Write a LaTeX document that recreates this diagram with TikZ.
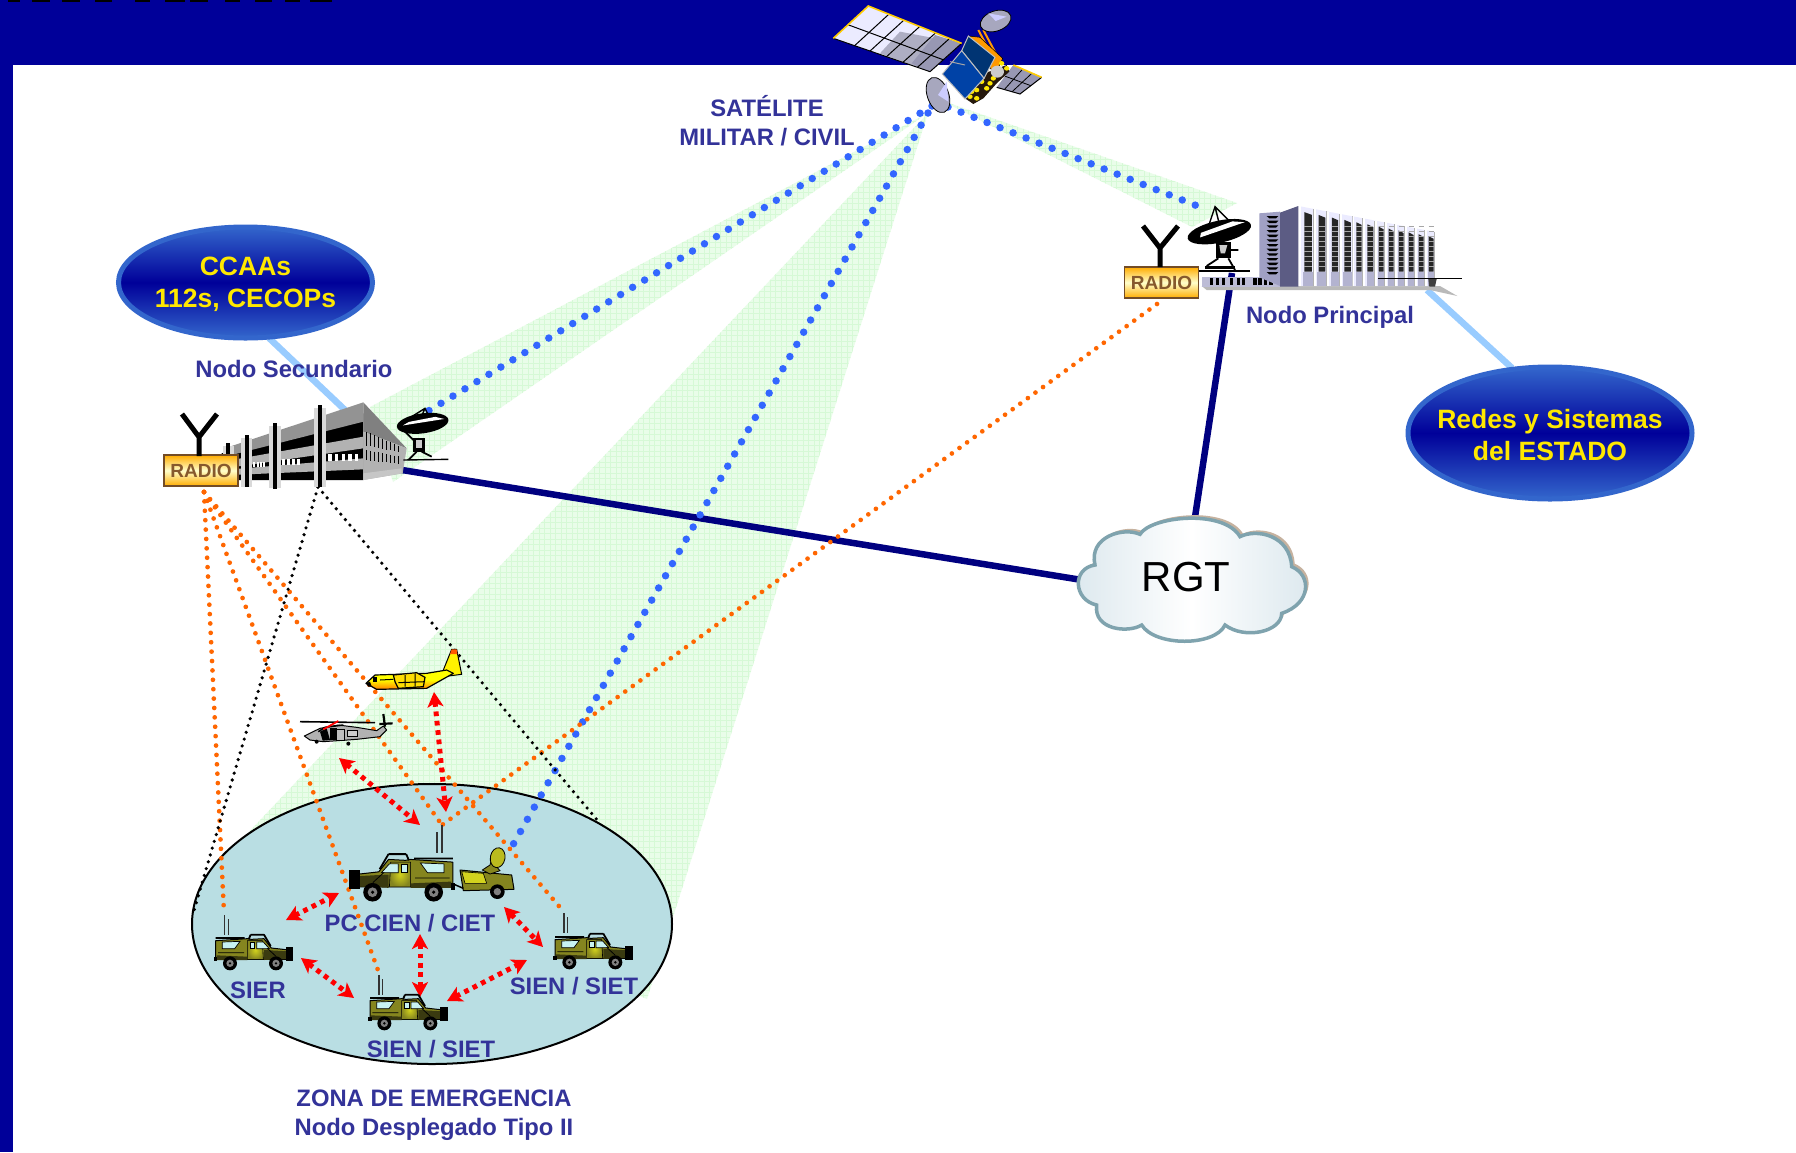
\documentclass[tikz,border=0pt]{standalone}
\usepackage{fontspec}
\setmainfont{Liberation Sans}
\usetikzlibrary{arrows.meta,calc,shapes.geometric}
\definecolor{hdr}{HTML}{000099}
\definecolor{rim}{HTML}{3366CC}
\definecolor{labelblue}{HTML}{333399}
\definecolor{beam}{HTML}{E9FDE9}
\definecolor{beamgrid}{HTML}{D6F9D6}
\definecolor{zone}{HTML}{B9DEE3}
\definecolor{navy2}{HTML}{000080}
\definecolor{skyln}{HTML}{99CCFF}
\definecolor{sat}{HTML}{3366FF}
\definecolor{orng}{HTML}{FF6600}
\definecolor{olive}{HTML}{85851F}
\definecolor{olivey}{HTML}{D2D21E}
\definecolor{olived}{HTML}{3A3A10}
\definecolor{glass}{HTML}{C8F2F2}
\definecolor{ylw}{HTML}{FFE800}
\definecolor{towerdark}{HTML}{5C5C84}
\definecolor{towerlight}{HTML}{A0A0C4}
\definecolor{cloudrim}{HTML}{7FA3AE}
\definecolor{cloudside}{HTML}{DCE8EE}
\tikzset{
  lbl/.style={font=\bfseries\fontsize{23.8}{29}\selectfont,text=labelblue,align=center,inner sep=0pt},
  ylbl/.style={font=\bfseries\fontsize{26.5}{32}\selectfont,text=ylw,align=center,inner sep=0pt},
  bluedots/.style={sat,line width=7.5pt,line cap=round,dash pattern=on 0pt off 14pt},
  orangedots/.style={orng,line width=4.7pt,line cap=round,dash pattern=on 0pt off 9.4pt},
  blackdots/.style={black,line width=3.6pt,line cap=round,dash pattern=on 0pt off 7.1pt},
  redarrow/.style={red,line width=5pt,dash pattern=on 4.7pt off 4.7pt,
     {Stealth[length=15pt,width=16pt,inset=4pt]}-{Stealth[length=15pt,width=16pt,inset=4pt]}},
  navyline/.style={navy2,line width=6.5pt},
  skyline/.style={skyln,line width=6.5pt},
  blueell/.style={ellipse,minimum width=254pt,minimum height=111pt,inner sep=0pt,
     draw=rim,line width=5pt,top color=rim,bottom color=rim,middle color=hdr},
  radiobox/.style={draw=brown!60!black,line width=1.6pt,minimum width=74pt,minimum height=31pt,inner sep=0pt,
     top color=orange!65!yellow,bottom color=orange!65!yellow,middle color=yellow!20,
     font=\bfseries\fontsize{19}{19}\selectfont,text=brown!70!black},
  yant/.style={black,line width=5pt},
  antenna/.style={black!80,line width=1.5pt},
  zoomed/.style={x=0.33333pt,y=-0.33333pt},
}
\newcommand{\jeepbody}{%
  \fill[olive,draw=black,line width=1pt,line join=round] (5,22) -- (100,16) -- (112,18) -- (150,16) -- (172,44) -- (225,50) -- (232,78) -- (5,78) -- cycle;
  \fill[inner color=olivey,outer color=olive,draw=black,line width=0.6pt] (100,22) -- (145,22) -- (148,78) -- (100,78) -- cycle;
  \fill[olived] (150,50) -- (225,54) -- (230,76) -- (150,80) -- cycle;
  \fill[olived] (8,66) -- (100,70) -- (100,80) -- (8,80) -- cycle;
  \fill[glass,draw=black,line width=0.7pt] (25,26) -- (78,24) -- (62,46) -- (25,46) -- cycle;
  \fill[glass,draw=black,line width=0.7pt] (108,26) -- (122,26) -- (122,46) -- (108,46) -- cycle;
  \fill[glass,draw=black,line width=0.7pt] (128,26) -- (148,26) -- (166,46) -- (128,46) -- cycle;
  \draw[black,line width=1.8pt,line join=round] (5,14) -- (92,14) (110,4) -- (150,4) (110,4) -- (104,18) (150,4) -- (170,38);
  \draw[black,line width=0.8pt] (12,58) -- (90,58) (160,45) -- (185,68);
  \fill[black] (215,40) rectangle (238,82);
  \fill[black] (0,70) rectangle (10,84);
  \foreach \wx in {48,186}{
    \fill[black] (\wx,90) circle [x radius=21,y radius=21];
    \fill[gray] (\wx,90) circle [x radius=11,y radius=11];
    \fill[black] (\wx,90) circle [x radius=4,y radius=4];
  }
}
\newcommand{\dishparts}{%
  \fill[black,rotate=8] (0,0) ellipse [x radius=78,y radius=30];
  \fill[white,rotate=8] (-40,-10) -- (40,-14) -- (66,-4) -- (-60,-2) -- cycle;
}
\begin{document}
\begin{tikzpicture}[x=1pt,y=-1pt]
\useasboundingbox (0,0) rectangle (1796,1152);
\fill[white] (0,0) rectangle (1796,1152);
\coordinate (satA) at (928,113);
\coordinate (satB) at (932,106);
\coordinate (satC) at (948,107);
\coordinate (nsdish) at (425,413);
\coordinate (trailer) at (510,850);
\coordinate (npdish) at (1205,209);
\coordinate (radS) at (204,492);
\coordinate (radP) at (1157,304);
\coordinate (antSIER) at (224,913);
\coordinate (antB) at (379,973);
\coordinate (antPC) at (442,825);
\coordinate (antR) at (564,912);
\coordinate (bld) at (318,487);
\coordinate (ellL) at (193,914);
\coordinate (ellR) at (598,821);
\coordinate (cloudW) at (1082,580);
\coordinate (cloudN) at (1195,517);
\coordinate (nsGround) at (402,470);
\coordinate (npGround) at (1232,273);
\coordinate (ccaaS) at (269,338);
\coordinate (nsTop) at (345,410);
\coordinate (npRight) at (1427,290);
\coordinate (redesN) at (1512,368);
% beams
\begin{scope}
 \clip (928,113) -- (370,407) -- (393,482) -- cycle
   (928,113) -- (246,835) -- (647,999) -- cycle
   (940,100) -- (1237,203) -- (1192,227) -- cycle;
 \fill[beam] (0,0) rectangle (1796,1152);
 \draw[beamgrid,line width=0.5pt,step=5.5pt] (190,90) grid (1260,1010);
\end{scope}
% header
\fill[hdr] (0,0) rectangle (1796,65);
\fill[hdr] (0,0) rectangle (13,1152);
\foreach \xa/\xb in {8/20,32/50,62/80,95/112,135/150,165/185,190/208,225/240,255/272,285/300,310/332}{
  \fill[black] (\xa,0) rectangle (\xb,2.2);}
% zone
\node[ellipse,draw=black,line width=2pt,fill=zone,minimum width=480pt,minimum height=280pt,inner sep=0pt] (zona) at (432,924) {};
\draw[skyline] (ccaaS) -- (nsTop);
\draw[skyline] (npRight) -- (redesN);
\draw[navyline] (nsGround) -- (cloudW);
\draw[navyline] (npGround) -- (cloudN);
\draw[bluedots] (satB) -- (nsdish);
\draw[bluedots] (satA) -- (trailer);
\draw[bluedots] (satC) -- (npdish);
% cloud
\begin{scope}[shift={(1060,500)},zoomed]
 \def\cloudp{(240,103) .. controls (270,50) and (490,25) .. (540,110)
   .. controls (590,85) and (690,105) .. (695,200)
   .. controls (755,225) and (755,310) .. (665,340)
   .. controls (665,395) and (555,420) .. (495,375)
   .. controls (465,440) and (285,440) .. (245,375)
   .. controls (205,400) and (100,390) .. (110,315)
   .. controls (40,300) and (35,205) .. (105,195)
   .. controls (85,110) and (190,80) .. (240,103) -- cycle}
 \fill[brown!50!gray!60,shift={(3pt,3pt)}] \cloudp;
 \draw[draw=cloudrim,line width=3.5pt,left color=cloudside,right color=cloudside,middle color=white] \cloudp;
\end{scope}
\node[font=\fontsize{42}{42}\selectfont,inner sep=0pt] (rgttext) at (1186,577) {RGT};
\draw[orangedots] (radS) -- (antSIER);
\draw[orangedots] (radS) -- (antB);
\draw[orangedots] (radS) -- (antPC);
\draw[orangedots] (radS) -- (antR);
\draw[orangedots] (radP) -- (antPC);
\draw[blackdots] (bld) -- (ellL);
\draw[blackdots] (bld) -- (ellR);
% ellipses
\node[blueell] (ccaa) at (245.5,282.5) {};
\node[ylbl] (ccaat) at (245.5,284.5) {CCAAs\\112s, CECOPs};
\node[blueell,minimum width=284pt,minimum height=132pt] (redes) at (1550,433) {};
\node[ylbl] (redest) at (1550,435) {Redes y Sistemas\\del ESTADO};
% secondary building
\begin{scope}[shift={(150,380)},zoomed]
 \fill[black] (215,300) -- (215,220) -- (640,100) -- (640,300) -- cycle;
 \fill[gray!85] (245,198) -- (640,67) -- (640,125) -- (245,225) -- cycle;
 \fill[gray!60] (245,240) -- (640,170) -- (640,205) -- (245,262) -- cycle;
 \fill[gray!60] (245,268) -- (640,235) -- (640,268) -- (245,285) -- cycle;
 \fill[gray] (640,67) -- (770,205) -- (640,155) -- cycle;
 \fill[gray!60] (640,155) -- (770,205) -- (758,280) -- (640,300) -- cycle;
 \foreach \xx in {650,662,674,686,698,710,722,734,746}{
   \draw[black,line width=1pt] (\xx,{150+(\xx-640)*0.45}) -- (\xx,{195+(\xx-640)*0.2});
   \draw[black,line width=1pt] (\xx,{208+(\xx-640)*0.2}) -- (\xx,{240+(\xx-640)*0.1});
 }
 \fill[gray!45] (640,280) -- (755,265) -- (755,280) -- (640,300) -- cycle;
 \foreach \xx in {535,555,575,595,615}{\fill[white] (\xx,222) rectangle ++(10,22);}
 \foreach \xx in {395,410,425,440}{\fill[white] (\xx,237) rectangle ++(9,17);}
 \foreach \xx in {310,320,330,340}{\fill[white] (\xx,247) rectangle ++(6,15);}
 \foreach \xa/\ya/\yb in {510/75/320,375/130/325,290/165/320,235/190/225}{
   \fill[gray!30] (\xa-17,\ya+8) rectangle (\xa+17,\yb);
   \fill[black] (\xa-6,\ya) rectangle (\xa+6,\yb+2);
 }
 \draw[black,line width=1.4pt] (785,110) -- (825,85) -- (845,125) (825,85) -- (810,120);
 \fill[black] (790,175) rectangle (825,215);
 \fill[gray!40] (798,180) rectangle (815,205);
 \draw[black,line width=1.8pt] (800,215) -- (775,240) (815,215) -- (845,230) (765,155) -- (790,180);
 \draw[black,line width=1.4pt] (760,240) -- (895,238);
 \begin{scope}[shift={(818,130)}] \dishparts \end{scope}
\end{scope}
\node[radiobox] (radioS) at (201,470.5) {RADIO};
\draw[yant] (199,456) -- (199,437) (182,414) -- (199,437) -- (217,414);
% principal building
\begin{scope}[shift={(1110,190)},zoomed]
 \fill[gray!55] (275,288) -- (990,288) -- (1042,318) -- (960,300) -- (290,300) -- cycle;
 \fill[towerlight!70] (275,260) rectangle (510,290);
 \foreach \xx in {300,318,335,360,380,395,430,445,462,478}{\fill[black] (\xx,265) rectangle ++(10,20);}
 \fill[towerlight] (448,70) -- (510,65) -- (510,288) -- (448,262) -- cycle;
 \foreach \yy in {78,92,106,120,134,148,162,176,190,204,218,232,246}{
   \fill[black] (470,\yy) -- (505,\yy) -- (498,\yy+7) -- (478,\yy+7) -- cycle;}
 \fill[towerdark] (510,68) -- (565,48) -- (565,290) -- (510,290) -- cycle;
 \foreach \xa/\wid in {568/44,612/40,652/38,690/38,728/32,760/35,795/30,825/30,855/30,885/30,915/30,945/30}{
   \pgfmathsetmacro{\yt}{48+(\xa-565)*0.19}
   \pgfmathsetmacro{\xb}{\xa+\wid-1}
   \pgfmathsetmacro{\yb}{48+(\xb-565)*0.19}
   \fill[blue!8] (\xa,\yt) -- (\xb,\yb) -- (\xb,288) -- (\xa,288) -- cycle;
   \fill[towerlight!80] (\xa+10,245) -- (\xb,245) -- (\xb,288) -- (\xa+10,288) -- cycle;
   \fill[white] (\xa,\yt) rectangle (\xa+5,288);
   \fill[gray!60] (\xb-2,\yb) rectangle (\xb,288);
   \pgfmathsetmacro{\wx}{\xa+\wid*0.35}
   \pgfmathsetmacro{\wxx}{\xa+\wid*0.85}
   \fill[black!85] (\wx,\yt+18) -- (\wxx,\yt+26) -- (\wxx,245) -- (\wx,245) -- cycle;
   \foreach \gy in {110,125,140,155,170,185,200,215,230}{\draw[gray!70,line width=0.6pt] (\wx,\gy) -- (\wxx,\gy);}
 }
 \draw[black,line width=1.3pt] (805,265) -- (1055,265);
 \fill[black!75] (955,267) -- (980,267) -- (975,290) -- (958,290) -- cycle;
 \draw[black,line width=1.4pt] (295,110) -- (315,50) -- (360,95) (315,50) -- (330,110);
 \fill[black] (318,155) rectangle (362,205);
 \fill[gray!40] (328,165) -- (352,165) -- (345,190) -- (332,190) -- cycle;
 \draw[black,line width=1.8pt] (325,205) -- (290,228) (355,205) -- (375,240) (360,180) -- (385,180);
 \fill[black] (285,228) rectangle (375,238);
 \draw[black,line width=1.4pt] (265,243) -- (420,243);
 \begin{scope}[shift={(328,125)},rotate=12]
   \fill[black] (0,0) ellipse [x radius=97,y radius=33];
   \fill[white] (-55,-8) -- (45,-22) -- (80,-12) -- (-60,5) -- cycle;
 \end{scope}
\end{scope}
\node[radiobox] (radioP) at (1161.5,282.5) {RADIO};
\draw[yant] (1160,267) -- (1160,248) (1143,226) -- (1160,248) -- (1178,226);
% red arrows
\coordinate (r1a) at (434,692); \coordinate (r1b) at (446,812);
\coordinate (r2a) at (339,758); \coordinate (r2b) at (420,825);
\coordinate (r3a) at (286,920); \coordinate (r3b) at (339,893);
\coordinate (r4a) at (301,958); \coordinate (r4b) at (354,998);
\coordinate (r5a) at (420,934); \coordinate (r5b) at (420,997);
\coordinate (r6a) at (447,1001); \coordinate (r6b) at (527,960);
\coordinate (r7a) at (504,907); \coordinate (r7b) at (543,947);
\foreach \n in {1,...,7}{\draw[redarrow] (r\n a) -- (r\n b);}
% jeeps
\begin{scope}[shift={(190,820)},zoomed]
  \draw[antenna] (103,285) -- (103,345) (115,297) -- (115,345);
  \begin{scope}[shift={(72,340)}]\jeepbody\end{scope}
  \draw[antenna] (567,465) -- (567,525) (578,478) -- (578,525);
  \begin{scope}[shift={(535,520)}]\jeepbody\end{scope}
\end{scope}
\begin{scope}[shift={(400,820)},zoomed]
  \draw[antenna] (492,280) -- (492,340) (503,292) -- (503,340);
  \begin{scope}[shift={(460,337)}]\jeepbody\end{scope}
  \fill[olive,draw=black,line width=1pt,line join=round] (180,150) -- (335,165) -- (342,208) -- (190,212) -- cycle;
  \fill[olivey,draw=black,line width=0.6pt] (185,155) -- (250,160) -- (260,190) -- (195,190) -- cycle;
  \draw[black,line width=1.5pt] (160,192) -- (190,205);
  \fill[black] (292,215) circle [x radius=22,y radius=22];
  \fill[gray] (292,215) circle [x radius=11,y radius=11];
  \fill[olive,draw=black,line width=0.8pt] (247,150) -- (270,135) -- (275,115) -- (288,115) -- (285,135) -- (300,152) -- (270,162) -- cycle;
  \fill[olivey!70!olive,draw=black,line width=0.8pt,rotate around={-10:(293,113)}] (293,113) ellipse [x radius=22,y radius=30];
  \draw[antenna,line width=1.8pt] (126,15) -- (126,100) (110,37) -- (110,100);
  \begin{scope}[shift={(165,97)},xscale=-1.33,yscale=1.33]\jeepbody\end{scope}
\end{scope}
% aircraft
\begin{scope}[shift={(280,640)},zoomed]
 \fill[yellow,draw=black,line width=1pt,line join=round] (490,90) -- (515,28) -- (530,28) -- (545,103) -- (505,108) -- cycle;
 \fill[orange!70!red] (515,28) -- (530,28) -- (532,42) -- (510,42) -- cycle;
 \shade[top color=yellow,bottom color=orange,middle color=yellow] (258,130) -- (285,105) -- (440,100) -- (500,90) -- (520,100) -- (440,145) -- (290,148) -- cycle;
 \draw[black,line width=1.2pt,line join=round] (258,130) -- (285,105) -- (440,100) -- (500,90) -- (520,100) -- (440,145) -- (290,148) -- cycle;
 \draw[black,line width=1.2pt,fill=yellow!80!orange] (340,105) -- (410,98) -- (435,112) -- (430,140) -- (355,145) -- (345,125) -- cycle;
 \draw[black,line width=1pt] (355,128) -- (435,125) (375,105) -- (375,140) (405,100) -- (405,140) (300,120) -- (340,118);
 \fill[black] (278,112) rectangle (290,125);
 \fill[black] (258,130) -- (270,125) -- (275,140) -- (265,140) -- cycle;
 \draw[black,line width=1.6pt] (60,245) -- (285,248);
 \fill[gray!60,draw=black,line width=1pt,line join=round] (73,288) -- (120,265) -- (175,255) -- (230,262) -- (290,272) -- (310,258) -- (320,270) -- (300,290) -- (230,298) -- (130,305) -- (90,300) -- cycle;
 \draw[black,line width=1.5pt] (115,275) -- (135,262) -- (190,255);
 \fill[black] (120,275) -- (140,265) -- (150,300) -- (128,302) -- cycle;
 \fill[black] (150,265) rectangle (170,300);
 \fill[gray!50,draw=black,line width=.6pt] (170,268) rectangle (192,300);
 \fill[gray!40,draw=black,line width=.6pt] (203,272) rectangle (232,288);
 \draw[red,line width=1.8pt] (130,268) -- (175,243);
 \draw[black,line width=2.2pt] (310,222) -- (315,260) (298,252) -- (338,250);
 \fill[black] (110,305) circle [x radius=6,y radius=6] (205,311) circle [x radius=6,y radius=6];
\end{scope}
% satellite
\begin{scope}[shift={(780,0)},zoomed]
 \coordinate (pa) at (160,115); \coordinate (pb) at (265,18); \coordinate (pc) at (545,130); \coordinate (pd) at (450,215);
 \fill[blue!8] (pa) -- (pb) -- (pc) -- (pd) -- cycle;
 \fill[blue!15!gray!55] (300,160) -- (360,95) -- (545,130) -- (450,215) -- cycle;
 \fill[blue!15!gray!70] (395,190) -- (465,105) -- (545,130) -- (450,215) -- cycle;
 \foreach \t in {.22,.38,.55,.72,.87}{\draw[black,line width=1pt] ($(pa)!\t!(pd)$) -- ($(pb)!\t!(pc)$);}
 \draw[black,line width=1pt] ($(pa)!.42!(pb)$) -- ($(pd)!.42!(pc)$);
 \draw[black,line width=1pt] (pa) -- (pd) -- (pc);
 \draw[orange!40!yellow,line width=1.6pt] (pa) -- (pb) -- (pc);
 \coordinate (qa) at (650,262); \coordinate (qb) at (700,195); \coordinate (qc) at (785,232); \coordinate (qd) at (720,282);
 \fill[blue!15!gray!70] (qa) -- (qb) -- (qc) -- (qd) -- cycle;
 \foreach \t in {.33,.66}{\draw[black,line width=.8pt] ($(qa)!\t!(qd)$) -- ($(qb)!\t!(qc)$);}
 \draw[black,line width=.8pt] ($(qa)!.5!(qb)$) -- ($(qd)!.5!(qc)$);
 \draw[black,line width=1pt] (qa) -- (qd) -- (qc);
 \draw[orange!40!yellow,line width=1.6pt] (qb) -- (qc);
 \draw[orange!80!yellow,line width=2pt] (595,90) -- (640,175) (610,90) -- (655,175);
 \fill[blue!15!gray!60,draw=black,line width=.8pt,rotate around={20:(647,63)}] (647,63) ellipse [x radius=48,y radius=30];
 \fill[white!80!blue] (647,63) -- (625,40) -- (680,50) -- cycle;
 \fill[orange!80!yellow,draw=black,line width=.5pt] (565,108) -- (600,112) -- (668,175) -- (645,225) -- cycle;
 \fill[black!80!brown] (555,295) -- (600,225) -- (680,195) -- (688,215) -- (650,250) -- (610,295) -- (580,312) -- cycle;
 \foreach \px/\py in {570/290,590/270,605/245,620/265,640/235,660/215,590/295,575/275,630/250,665/190,680/205}{
   \fill[yellow!90!orange] (\px,\py) circle [x radius=8,y radius=7];}
 \fill[gray!40] (652,215) circle [x radius=20,y radius=18];
 \fill[blue!55!cyan!45!black,draw=gray!50,line width=1pt] (565,108) -- (645,172) -- (612,235) -- (545,152) -- cycle;
 \fill[blue!60!cyan!65!black,draw=gray!50,line width=1pt] (487,222) -- (545,152) -- (612,235) -- (555,297) -- cycle;
 \draw[gray!70,line width=1pt] (510,185) -- (555,195);
 \fill[blue!15!gray!60,draw=black,line width=.8pt,rotate around={-70:(474,285)}] (474,285) ellipse [x radius=55,y radius=32];
 \fill[white!80!blue] (474,285) -- (500,245) -- (505,305) -- cycle;
\end{scope}
% labels
\node[lbl] (satl) at (767,121) {SATÉLITE\\MILITAR / CIVIL};
\node[lbl] (nsl) at (294,369) {Nodo Secundario};
\node[lbl] (npl) at (1330,317) {Nodo Principal};
\node[lbl] (pcl) at (410,923) {PC CIEN / CIET};
\node[lbl] (sierl) at (258,990) {SIER};
\node[lbl] (siena) at (574,986) {SIEN / SIET};
\node[lbl] (sienb) at (431,1049) {SIEN / SIET};
\node[lbl] (zonal) at (434,1115) {ZONA DE EMERGENCIA\\Nodo Desplegado Tipo II};
\end{tikzpicture}
\end{document}
